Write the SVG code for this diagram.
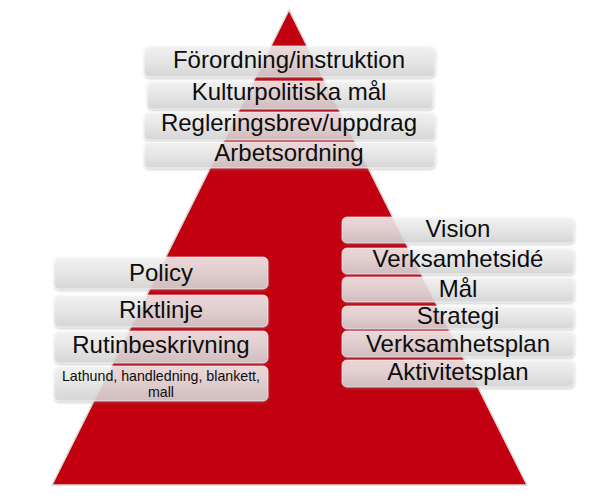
<svg xmlns="http://www.w3.org/2000/svg" width="593" height="498" viewBox="0 0 593 498">
  <defs>
    <linearGradient id="boxGrad" x1="0" y1="0" x2="0" y2="1">
      <stop offset="0" stop-color="#F6F6F6"/>
      <stop offset="0.5" stop-color="#E8E8E8"/>
      <stop offset="1" stop-color="#D6D6D6"/>
    </linearGradient>
    <filter id="shadow" x="-5%" y="-20%" width="110%" height="150%">
      <feDropShadow dx="0.5" dy="1.5" stdDeviation="1.2" flood-color="#808080" flood-opacity="0.45"/>
    </filter>
  </defs>
  <style>
    .box { fill: url(#boxGrad); fill-opacity: 0.84; stroke: #FFFFFF; stroke-opacity: 0.6; stroke-width: 1; filter: url(#shadow); }
    .lbl { font-family: "Liberation Sans", Arial, sans-serif; font-size: 24px; fill: #0D0D0D; text-anchor: middle; }
    .small { font-size: 14.2px; }
  </style>
  <rect width="593" height="498" fill="#FFFFFF"/>
  <polygon id="pyramid" points="289,10 52,485 527,485" fill="#C3000F" stroke="#D8D8D8" stroke-width="1.5" stroke-linejoin="miter"/>

  <g id="n-forordning"><rect class="box" x="144" y="46" width="291" height="31" rx="5"/><text class="lbl" x="289" y="68">Förordning/instruktion</text></g>
  <g id="n-kulturpolitiska"><rect class="box" x="147" y="81" width="286" height="28" rx="5"/><text class="lbl" x="289" y="100">Kulturpolitiska mål</text></g>
  <g id="n-regleringsbrev"><rect class="box" x="144" y="112" width="291" height="28" rx="5"/><text class="lbl" x="289" y="131">Regleringsbrev/uppdrag</text></g>
  <g id="n-arbetsordning"><rect class="box" x="144" y="142" width="291" height="26" rx="5"/><text class="lbl" x="289" y="161">Arbetsordning</text></g>

  <g id="n-policy"><rect class="box" x="54" y="257" width="214" height="32" rx="5"/><text class="lbl" x="161" y="281">Policy</text></g>
  <g id="n-riktlinje"><rect class="box" x="54" y="295" width="214" height="32" rx="5"/><text class="lbl" x="161" y="318">Riktlinje</text></g>
  <g id="n-rutinbeskrivning"><rect class="box" x="54" y="331" width="214" height="32" rx="5"/><text class="lbl" x="161" y="353">Rutinbeskrivning</text></g>
  <g id="n-lathund"><rect class="box" x="54" y="366" width="214" height="35" rx="5"/><text class="lbl small" x="161" y="381">Lathund, handledning, blankett,</text><text class="lbl small" x="161" y="397">mall</text></g>

  <g id="n-vision"><rect class="box" x="342" y="217" width="232" height="26" rx="5"/><text class="lbl" x="458" y="237">Vision</text></g>
  <g id="n-verksamhetside"><rect class="box" x="342" y="248" width="232" height="26" rx="5"/><text class="lbl" x="458" y="267">Verksamhetsidé</text></g>
  <g id="n-mal"><rect class="box" x="342" y="277" width="232" height="25" rx="5"/><text class="lbl" x="458" y="297">Mål</text></g>
  <g id="n-strategi"><rect class="box" x="342" y="306" width="232" height="23" rx="5"/><text class="lbl" x="458" y="324">Strategi</text></g>
  <g id="n-verksamhetsplan"><rect class="box" x="342" y="331" width="232" height="26" rx="5"/><text class="lbl" x="458" y="352">Verksamhetsplan</text></g>
  <g id="n-aktivitetsplan"><rect class="box" x="342" y="360" width="232" height="27" rx="5"/><text class="lbl" x="458" y="380">Aktivitetsplan</text></g>
  <g id="connectors"></g>
</svg>
